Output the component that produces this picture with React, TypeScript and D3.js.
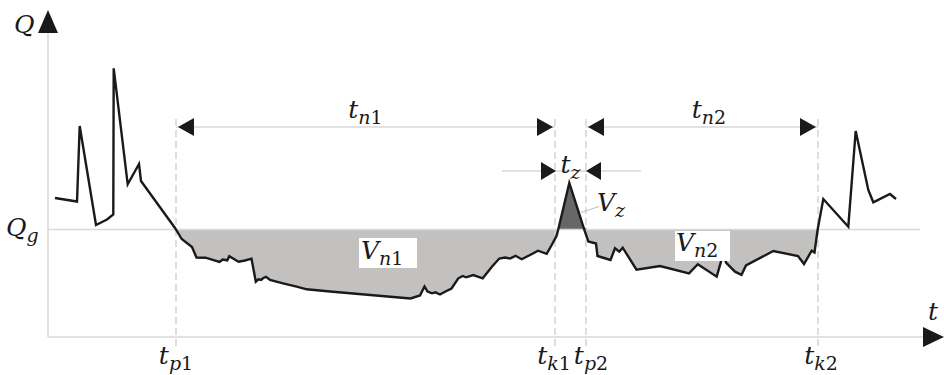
import React, { useEffect, useRef } from 'react';
import * as d3 from 'd3';

// hydrograph readings: time (arbitrary units) and discharge Q
const tValues = [
  7, 29, 31.7, 48, 59, 65.3, 65.7, 79.7, 91, 93, 127, 133.7, 144, 148.5, 157.5, 171.5, 174.7, 179.3,
  181.3, 190.5, 197, 203.5, 207.8, 210.5, 213, 215, 218, 222, 235, 248.7, 258.7, 282, 362.5, 372,
  376.5, 379.5, 384, 387.5, 392, 397, 403.5, 410.3, 414.7, 418, 425.3, 434.7, 443.7, 451.3, 457, 462,
  467.5, 473.7, 482, 490, 498.7, 503.7, 508.5, 510.3, 521.3, 535.3, 540.3, 548, 549.5, 562.5, 567,
  571.3, 574.7, 588.5, 612, 641, 649.8, 668.7, 673, 675.5, 678, 687, 693.5, 698, 725.3, 750, 756,
  763.7, 766.5, 769.7, 775.3, 800.3, 807.7, 820.3, 825.3, 842, 848
];
const qValues = [
  139, 135.5, 211, 112, 117.5, 122.5, 268.7, 152.7, 173, 156, 109, 98, 90, 79.5, 79.3, 75, 77.5, 76.7,
  80.7, 75.3, 76.5, 78.3, 55.3, 57.7, 57, 58.7, 60.2, 57, 53.7, 50.3, 47.7, 45.5, 38.5, 41.5,
  50.5, 45.5, 43.7, 44.7, 42.5, 45.3, 48.5, 58.7, 61, 59.7, 62, 58.7, 70, 78.5, 79.5, 78.5,
  81.2, 77.8, 82, 86.3, 83.2, 92, 101, 107.7, 154, 110.3, 95.5, 93.5, 81, 77, 88.7,
  85.3, 89.3, 67.3, 71, 63.7, 72.8, 60.3, 75.3, 85, 74.3, 65.3, 62.2, 71.5, 86, 81, 73,
  86.3, 84.5, 107.7, 138, 110.3, 206, 147, 134.7, 143, 138
];

// threshold discharge Q_g
const qThreshold = 107.6;

// characteristic moments t_p1, t_k1, t_p2, t_k2
const markerNames = ['p1', 'k1', 'p2', 'k2'];
const markerTimes = [128, 507, 538, 770];

// surplus (V_z) window between t_k1 and t_p2
const surplusStart = 510.3;
const surplusEnd = 540.3;

const W = 944;
const H = 375;

const App = () => {
  const svgRef = useRef<SVGSVGElement>(null);

  useEffect(() => {
    const svg = d3.select(svgRef.current);
    svg.selectAll('*').remove();

    const x = d3.scaleLinear().domain([0, 870]).range([48, 918]);
    const y = d3.scaleLinear().domain([0, 307]).range([337, 30]);

    const data = tValues.map((t, i) => ({ t, q: qValues[i] }));

    const axisColor = '#d9d9d9';
    const serif = "'DejaVu Serif', 'Liberation Serif', serif";

    // helper: italic letter with a subscript (letters italic, digits upright)
    const label = (
      px: number,
      py: number,
      main: string,
      sub: string,
      anchor = 'start',
      size = 25
    ) => {
      const txt = svg
        .append('text')
        .attr('x', px)
        .attr('y', py)
        .attr('text-anchor', anchor)
        .style('font-family', serif)
        .style('font-size', `${size}px`)
        .style('fill', '#1a1a1a');
      txt.append('tspan').style('font-style', 'italic').text(main);
      if (sub) {
        sub.split('').forEach((ch, i) => {
          txt
            .append('tspan')
            .attr('dy', i === 0 ? 6 : 0)
            .style('font-size', `${Math.round(size * 0.74)}px`)
            .style('font-style', /\d/.test(ch) ? 'normal' : 'italic')
            .text(ch);
        });
      }
      return txt;
    };

    // filled areas: deficit (below Q_g) and surplus (above Q_g)
    const deficit = d3
      .area<{ t: number; q: number }>()
      .x((d) => x(d.t))
      .y0(y(qThreshold))
      .y1((d) => y(Math.min(d.q, qThreshold)));

    svg
      .append('path')
      .datum(data)
      .attr('d', deficit)
      .attr('fill', '#c3c1bf');

    const surplus = d3
      .area<{ t: number; q: number }>()
      .x((d) => x(d.t))
      .y0(y(qThreshold))
      .y1((d) => y(Math.max(d.q, qThreshold)));

    svg
      .append('path')
      .datum(data.filter((d) => d.t >= surplusStart && d.t <= surplusEnd))
      .attr('d', surplus)
      .attr('fill', '#676767');

    // axes
    svg
      .append('line')
      .attr('x1', x(0))
      .attr('x2', x(0))
      .attr('y1', y(0))
      .attr('y2', 30)
      .attr('stroke', axisColor)
      .attr('stroke-width', 1.5);
    svg
      .append('line')
      .attr('x1', x(0))
      .attr('x2', 924)
      .attr('y1', y(0))
      .attr('y2', y(0))
      .attr('stroke', axisColor)
      .attr('stroke-width', 1.5);

    // Q_g level
    svg
      .append('line')
      .attr('x1', x(0))
      .attr('x2', 920)
      .attr('y1', y(qThreshold))
      .attr('y2', y(qThreshold))
      .attr('stroke', axisColor)
      .attr('stroke-width', 1.5);

    // arrowheads
    const arrow = (tipX: number, tipY: number, dir: 'left' | 'right' | 'up', len = 16, half = 9) => {
      let pts: [number, number][];
      if (dir === 'up') {
        pts = [
          [tipX, tipY],
          [tipX - half - 1, tipY + len + 6],
          [tipX + half + 1, tipY + len + 6]
        ];
      } else {
        const s = dir === 'left' ? 1 : -1;
        pts = [
          [tipX, tipY],
          [tipX + s * len, tipY - half],
          [tipX + s * len, tipY + half]
        ];
      }
      svg
        .append('path')
        .attr('d', d3.line()(pts) + 'Z')
        .attr('fill', '#1a1a1a');
    };

    arrow(x(0), 10, 'up', 17, 9);
    arrow(944, y(0), 'right', 21, 10);

    // dashed marker lines
    svg
      .selectAll('.marker')
      .data(markerTimes)
      .enter()
      .append('line')
      .attr('class', 'marker')
      .attr('x1', (d) => x(d))
      .attr('x2', (d) => x(d))
      .attr('y1', 119)
      .attr('y2', 347)
      .attr('stroke', '#d3d3d3')
      .attr('stroke-width', 1.5)
      .attr('stroke-dasharray', '7,4');

    // dimension lines t_n1, t_n2
    const dimY = y(210);
    [
      [markerTimes[0], markerTimes[1]],
      [markerTimes[2], markerTimes[3]]
    ].forEach(([a, b]) => {
      svg
        .append('line')
        .attr('x1', x(a))
        .attr('x2', x(b))
        .attr('y1', dimY)
        .attr('y2', dimY)
        .attr('stroke', axisColor)
        .attr('stroke-width', 1.3);
      arrow(x(a) + 2, dimY, 'left');
      arrow(x(b) - 2, dimY, 'right');
    });

    // dimension line t_z
    const tzY = y(166);
    svg
      .append('line')
      .attr('x1', x(454))
      .attr('x2', x(593))
      .attr('y1', tzY)
      .attr('y2', tzY)
      .attr('stroke', axisColor)
      .attr('stroke-width', 1.3);
    arrow(x(markerTimes[1]) + 1, tzY, 'right', 15);
    arrow(x(markerTimes[2]), tzY, 'left', 15);

    // hydrograph line
    const line = d3
      .line<{ t: number; q: number }>()
      .x((d) => x(d.t))
      .y((d) => y(d.q));

    svg
      .append('path')
      .datum(data)
      .attr('d', line)
      .attr('fill', 'none')
      .attr('stroke', '#1a1a1a')
      .attr('stroke-width', 2.4)
      .attr('stroke-linejoin', 'miter');

    // V labels in white boxes
    svg.append('rect').attr('x', 359).attr('y', 238).attr('width', 58).attr('height', 30).attr('fill', '#fff');
    label(361, 259, 'V', 'n1');
    svg.append('rect').attr('x', 675).attr('y', 231).attr('width', 55).attr('height', 30).attr('fill', '#fff');
    label(676, 251, 'V', 'n2');

    // V_z with leader line
    svg
      .append('line')
      .attr('x1', 581)
      .attr('y1', 212.5)
      .attr('x2', 599)
      .attr('y2', 206.5)
      .attr('stroke', '#bdbdbd')
      .attr('stroke-width', 1);
    label(597, 211, 'V', 'z');

    // dimension labels
    label((x(markerTimes[0]) + x(markerTimes[1])) / 2, 118, 't', 'n1', 'middle');
    label((x(markerTimes[2]) + x(markerTimes[3])) / 2 + 7, 118, 't', 'n2', 'middle');
    label((x(markerTimes[1]) + x(markerTimes[2])) / 2, 173, 't', 'z', 'middle');

    // marker labels under the time axis
    const labelShift = [0, -1, 5, 3];
    markerNames.forEach((name, i) => {
      label(x(markerTimes[i]) + labelShift[i], 364, 't', name, 'middle');
    });

    // axis titles
    label(14, 33, 'Q', '');
    label(6, 236, 'Q', 'g');
    label(928, 320, 't', '');
  }, []);

  return (
    <svg
      ref={svgRef}
      width={W}
      height={H}
      style={{ position: 'absolute', left: 0, top: 0, background: '#fff' }}
    />
  );
};

export default App;
